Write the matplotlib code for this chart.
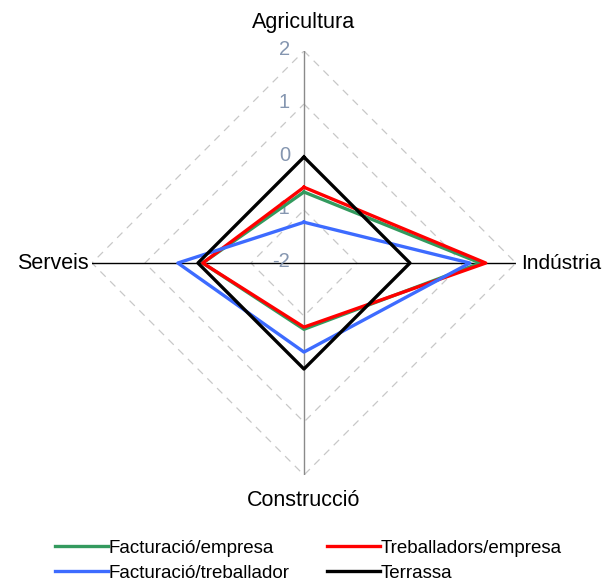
import numpy as np
import matplotlib
matplotlib.use('Agg')
import matplotlib.pyplot as plt

plt.rcParams['font.family'] = ['Liberation Sans', 'DejaVu Sans']

# Data
categories = ['Agricultura', 'Indústria', 'Construcció', 'Serveis']
facturacio_empresa = [-0.66, 1.33, -0.75, -0.09]
treballadors_empresa = [-0.57, 1.43, -0.79, -0.09]
facturacio_treballador = [-1.23, 1.13, -0.32, 0.38]
terrassa = [0.0, 0.0, 0.0, 0.0]
r_ticks = [-2, -1, 0, 1, 2]

series = [
    ('Facturació/empresa', facturacio_empresa, '#339a5e'),
    ('Treballadors/empresa', treballadors_empresa, '#ff0000'),
    ('Facturació/treballador', facturacio_treballador, '#3d6bff'),
    ('Terrassa', terrassa, '#000000'),
]

angles = np.arange(len(categories)) * 2 * np.pi / len(categories)
closed = np.append(angles, angles[0])

fig = plt.figure(figsize=(6.05, 5.81), dpi=100)
ax = fig.add_axes([0.152, 0.1824, 0.7008, 0.7298], projection='polar')
ax.set_theta_zero_location('N')
ax.set_theta_direction(-1)
ax.set_ylim(-2, 2)
ax.grid(False)
ax.set_xticks([])
ax.set_yticks([])
ax.spines['polar'].set_visible(False)

# polygon grid
for r in r_ticks[1:]:
    ax.plot(closed, [r] * len(closed), color='#c8c8c8', lw=0.9,
            linestyle=(0, (6, 5)), zorder=1)

# spokes
ax.plot([0, np.pi], [2, 2], color='#8a8a8a', lw=1.0, zorder=2)
ax.plot([0, np.pi], [-2, -2], color='#8a8a8a', lw=1.0, zorder=2)
ax.plot([np.pi / 2, 3 * np.pi / 2], [2, 2], color='black', lw=1.0, zorder=2)

# radial tick labels
for r in r_ticks:
    ax.annotate(str(r), xy=(0, r), xytext=(-10, 1),
                textcoords='offset points', ha='right', va='center',
                fontsize=14.5, color='#8596b0', zorder=3)

# series
handles = {}
for name, vals, col in series:
    line, = ax.plot(closed, vals + [vals[0]], color=col, lw=2.4, label=name, zorder=4)
    handles[name] = line

# category labels
ax.annotate(categories[0], xy=(0, 2), xytext=(0, 13), textcoords='offset points',
            ha='center', va='bottom', fontsize=15.5)
ax.annotate(categories[1], xy=(np.pi / 2, 2), xytext=(4, 0), textcoords='offset points',
            ha='left', va='center', fontsize=15)
ax.annotate(categories[2], xy=(np.pi, 2), xytext=(0, -11), textcoords='offset points',
            ha='center', va='top', fontsize=15.5)
ax.annotate(categories[3], xy=(3 * np.pi / 2, 2), xytext=(-2, 0), textcoords='offset points',
            ha='right', va='center', fontsize=15.5)

# legend filled row by row, like the original
order = ['Facturació/empresa', 'Facturació/treballador', 'Treballadors/empresa', 'Terrassa']
fig.legend([handles[n] for n in order], order, loc='lower center',
           bbox_to_anchor=(0.51, -0.03), ncol=2, frameon=False,
           fontsize=13.5, handlelength=2.8, handletextpad=0.05, columnspacing=2.0,
           labelspacing=0.4)

fig.savefig('out.png', dpi=100)
